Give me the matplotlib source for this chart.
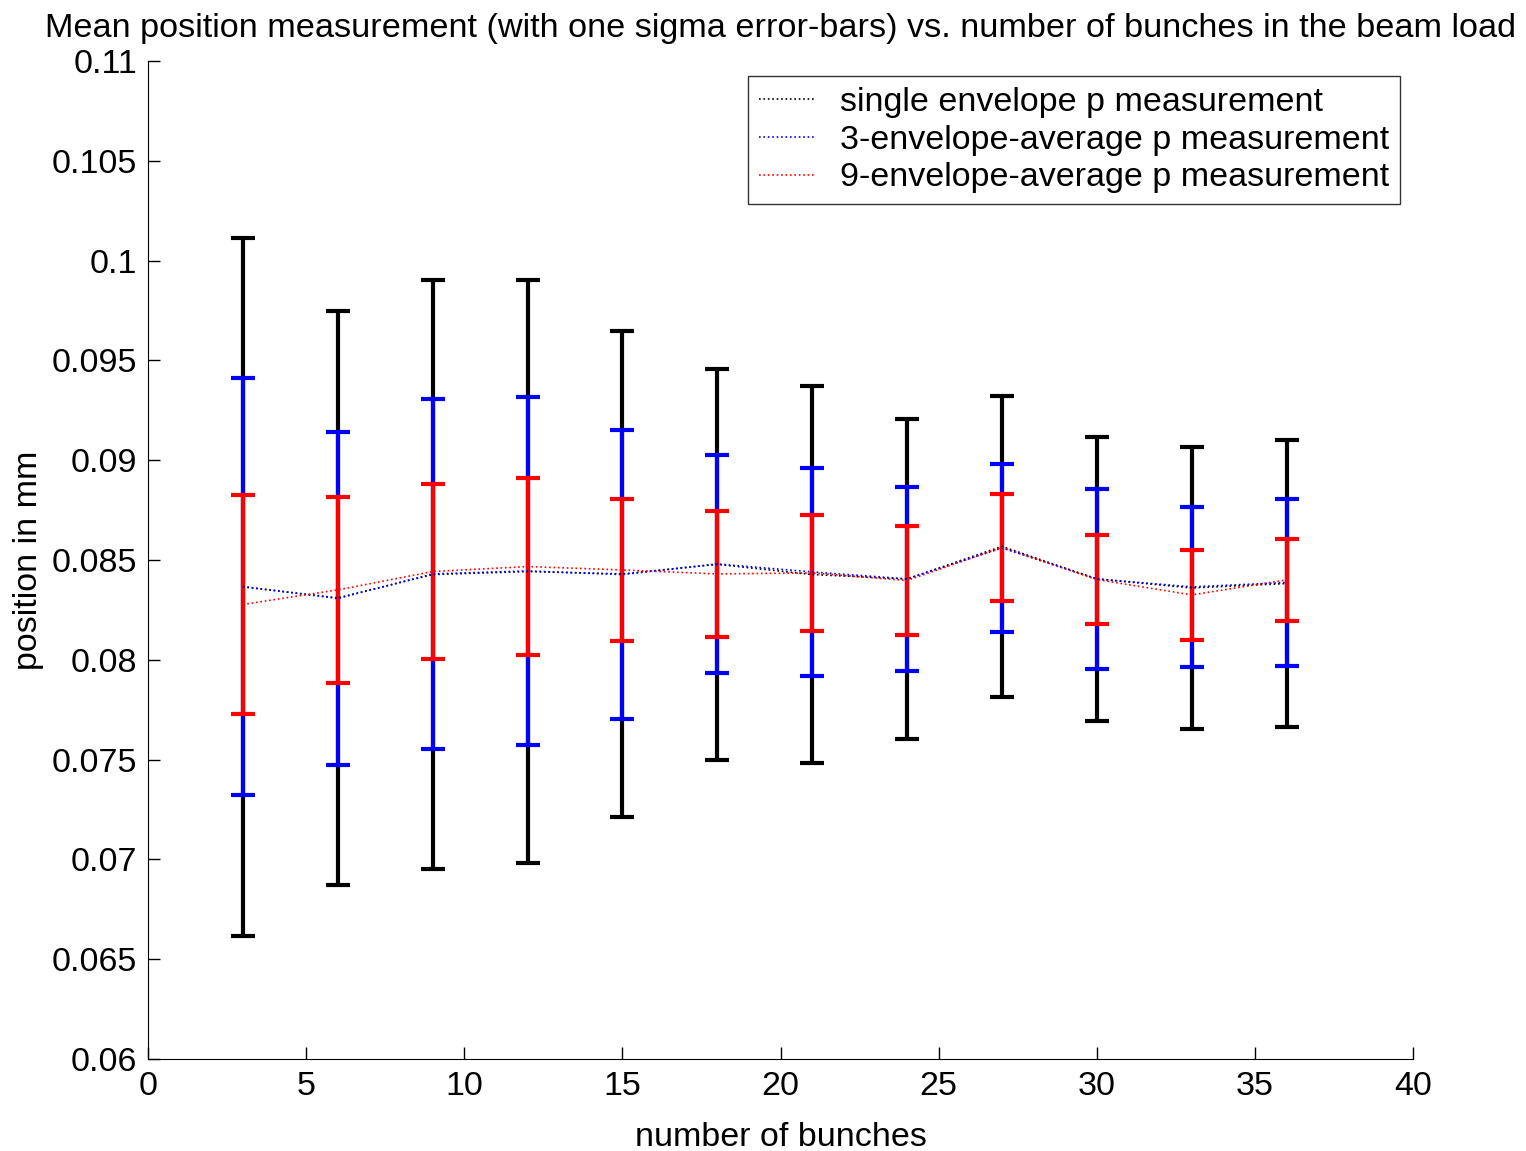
import numpy as np
import matplotlib
matplotlib.use('Agg')
import matplotlib.pyplot as plt

plt.rcParams['font.family'] = ['Liberation Sans', 'DejaVu Sans']

# number of bunches
bunches = [3, 6, 9, 12, 15, 18, 21, 24, 27, 30, 33, 36]

# single envelope
mean_1 = [0.08365, 0.08310, 0.08427, 0.08442, 0.08430, 0.08478,
          0.08427, 0.08405, 0.08568, 0.08405, 0.08360, 0.08382]
sig_1 = [0.01749, 0.01438, 0.01475, 0.01460, 0.01217, 0.00980,
         0.00944, 0.00802, 0.00754, 0.00711, 0.00706, 0.00719]

# 3-envelope average
mean_3 = [0.08367, 0.08307, 0.08430, 0.08445, 0.08427, 0.08480,
          0.08440, 0.08405, 0.08560, 0.08405, 0.08365, 0.08387]
sig_3 = [0.01045, 0.00834, 0.00877, 0.00872, 0.00724, 0.00546,
         0.00521, 0.00461, 0.00421, 0.00451, 0.00401, 0.00418]

# 9-envelope average
mean_9 = [0.08277, 0.08350, 0.08442, 0.08467, 0.08450, 0.08430,
          0.08435, 0.08397, 0.08563, 0.08402, 0.08325, 0.08400]
sig_9 = [0.00549, 0.00466, 0.00438, 0.00443, 0.00356, 0.00316,
         0.00291, 0.00273, 0.00268, 0.00223, 0.00226, 0.00205]

labels = ['single envelope p measurement',
          '3-envelope-average p measurement',
          '9-envelope-average p measurement']

fig = plt.figure(figsize=(15.26, 11.51), dpi=100)
ax = fig.add_axes([0.097, 0.080, 0.829, 0.867])

series = [(mean_1, sig_1, 'black'), (mean_3, sig_3, 'blue'), (mean_9, sig_9, 'red')]

# error bars first, then dotted mean lines on top
for m, s, c in series:
    ax.errorbar(bunches, m, yerr=s, fmt='none', ecolor=c, elinewidth=3,
                capsize=8.5, capthick=3)

handles = []
for (m, s, c), lab in zip(series, labels):
    h, = ax.plot(bunches, m, ':', color=c, lw=1.2, label=lab)
    handles.append(h)

ax.set_xlim(0, 40)
ax.set_ylim(0.06, 0.11)
ax.set_xticks(np.arange(0, 41, 5))
ax.set_yticks(np.arange(0.06, 0.1101, 0.005))
ax.set_yticklabels(['0.06', '0.065', '0.07', '0.075', '0.08', '0.085',
                    '0.09', '0.095', '0.1', '0.105', '0.11'])

ax.spines['top'].set_visible(False)
ax.spines['right'].set_visible(False)
ax.tick_params(direction='in', length=8.5, width=1, labelsize=24.5)
ax.tick_params(axis='x', pad=9)
ax.tick_params(axis='y', pad=8)

ax.set_xlabel('number of bunches', fontsize=24.5, labelpad=14)
ax.set_ylabel('position in mm', fontsize=24.5, labelpad=5)
ax.set_title('Mean position measurement (with one sigma error-bars) vs. number of bunches in the beam load',
             fontsize=24.7, pad=17)

leg = ax.legend(handles=handles, loc='upper right', bbox_to_anchor=(0.99, 0.985),
                fontsize=24.5, frameon=True, fancybox=False, edgecolor='black',
                borderpad=0.32, handlelength=1.7, handletextpad=0.7,
                labelspacing=0.2, borderaxespad=0)
leg.get_frame().set_linewidth(1)

fig.savefig('out.png', dpi=100)
